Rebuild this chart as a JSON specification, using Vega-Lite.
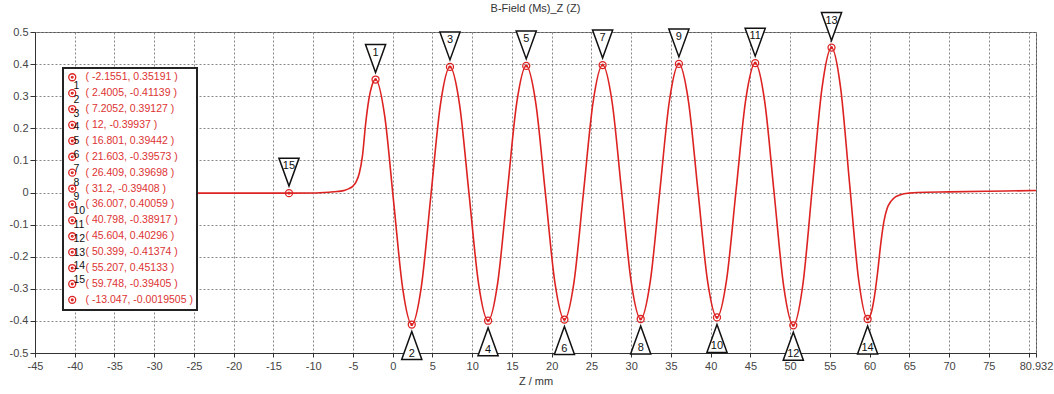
{
  "$schema": "https://vega.github.io/schema/vega-lite/v6.json",
  "width": 1001,
  "height": 321,
  "autosize": "none",
  "padding": {"left": 35, "top": 32, "right": 18, "bottom": 41},
  "title": {"text": "B-Field (Ms)_Z (Z)", "frame": "group", "fontSize": 11, "fontWeight": "normal", "font": "Liberation Sans", "color": "#333", "offset": -4},
  "config": {
    "view": {"stroke": "#555", "strokeWidth": 1},
    "font": "Liberation Sans",
    "legend": {"strokeWidth": 2}
  },
  "datasets": {
    "curve": [
      {"x": -40, "v": -0.002}, {"x": -30, "v": -0.002}, {"x": -20, "v": -0.002}, {"x": -13.047, "v": -0.00195},
      {"x": -10, "v": -0.0015}, {"x": -8, "v": 0.001}, {"x": -7, "v": 0.003}, {"x": -6, "v": 0.007},
      {"x": -5.5, "v": 0.012}, {"x": -5, "v": 0.02}, {"x": -4.6, "v": 0.033}, {"x": -4.2, "v": 0.06},
      {"x": -3.8, "v": 0.115}, {"x": -3.4, "v": 0.215}, {"x": -3.0, "v": 0.29}, {"x": -2.6, "v": 0.334},
      {"x": -2.1551, "v": 0.35191}, {"x": -1.0162, "v": 0.24016}, {"x": 0.1227, "v": -0.02974}, {"x": 1.2616, "v": -0.29964},
      {"x": 2.4005, "v": -0.41139}, {"x": 3.6017, "v": -0.29388}, {"x": 4.8029, "v": -0.01006}, {"x": 6.004, "v": 0.27376},
      {"x": 7.2052, "v": 0.39127}, {"x": 8.4039, "v": 0.27552}, {"x": 9.6026, "v": -0.00405}, {"x": 10.8013, "v": -0.28362},
      {"x": 12, "v": -0.39937}, {"x": 13.2003, "v": -0.28316}, {"x": 14.4005, "v": -0.00248}, {"x": 15.6008, "v": 0.27821},
      {"x": 16.801, "v": 0.39442}, {"x": 18.0015, "v": 0.27874}, {"x": 19.202, "v": -0.00065}, {"x": 20.4025, "v": -0.28005},
      {"x": 21.603, "v": -0.39573}, {"x": 22.8045, "v": -0.27968}, {"x": 24.006, "v": 0.00062}, {"x": 25.2075, "v": 0.28093},
      {"x": 26.409, "v": 0.39698}, {"x": 27.6068, "v": 0.28117}, {"x": 28.8045, "v": 0.00145}, {"x": 30.0023, "v": -0.27827},
      {"x": 31.2, "v": -0.39408}, {"x": 32.4018, "v": -0.27774}, {"x": 33.6035, "v": 0.00325}, {"x": 34.8053, "v": 0.28425},
      {"x": 36.007, "v": 0.40059}, {"x": 37.2048, "v": 0.28497}, {"x": 38.4025, "v": 0.00571}, {"x": 39.6003, "v": -0.27355},
      {"x": 40.798, "v": -0.38917}, {"x": 41.9995, "v": -0.2732}, {"x": 43.201, "v": 0.00689}, {"x": 44.4025, "v": 0.28699},
      {"x": 45.604, "v": 0.40296}, {"x": 46.8028, "v": 0.2834}, {"x": 48.0015, "v": -0.00539}, {"x": 49.2003, "v": -0.29418},
      {"x": 50.399, "v": -0.41374}, {"x": 51.601, "v": -0.28709}, {"x": 52.803, "v": 0.01879}, {"x": 54.005, "v": 0.32468},
      {"x": 55.207, "v": 0.45133}, {"x": 56.3423, "v": 0.32757}, {"x": 57.4775, "v": 0.02864}, {"x": 58.6128, "v": -0.27029},
      {"x": 59.748, "v": -0.39405}, {"x": 60.2, "v": -0.375}, {"x": 60.6, "v": -0.325}, {"x": 61.0, "v": -0.25},
      {"x": 61.4, "v": -0.16}, {"x": 61.8, "v": -0.09}, {"x": 62.2, "v": -0.05}, {"x": 62.7, "v": -0.027},
      {"x": 63.3, "v": -0.013}, {"x": 64, "v": -0.006}, {"x": 65, "v": -0.002}, {"x": 66, "v": 0.0},
      {"x": 70, "v": 0.002}, {"x": 75, "v": 0.004}, {"x": 80.932, "v": 0.006}
    ],
    "marks": [
      {"id": 1, "num": "1", "x": -2.1551, "v": 0.35191, "label": "( -2.1551, 0.35191 )"},
      {"id": 2, "num": "2", "x": 2.4005, "v": -0.41139, "label": "( 2.4005, -0.41139 )"},
      {"id": 3, "num": "3", "x": 7.2052, "v": 0.39127, "label": "( 7.2052, 0.39127 )"},
      {"id": 4, "num": "4", "x": 12, "v": -0.39937, "label": "( 12, -0.39937 )"},
      {"id": 5, "num": "5", "x": 16.801, "v": 0.39442, "label": "( 16.801, 0.39442 )"},
      {"id": 6, "num": "6", "x": 21.603, "v": -0.39573, "label": "( 21.603, -0.39573 )"},
      {"id": 7, "num": "7", "x": 26.409, "v": 0.39698, "label": "( 26.409, 0.39698 )"},
      {"id": 8, "num": "8", "x": 31.2, "v": -0.39408, "label": "( 31.2, -0.39408 )"},
      {"id": 9, "num": "9", "x": 36.007, "v": 0.40059, "label": "( 36.007, 0.40059 )"},
      {"id": 10, "num": "10", "x": 40.798, "v": -0.38917, "label": "( 40.798, -0.38917 )"},
      {"id": 11, "num": "11", "x": 45.604, "v": 0.40296, "label": "( 45.604, 0.40296 )"},
      {"id": 12, "num": "12", "x": 50.399, "v": -0.41374, "label": "( 50.399, -0.41374 )"},
      {"id": 13, "num": "13", "x": 55.207, "v": 0.45133, "label": "( 55.207, 0.45133 )"},
      {"id": 14, "num": "14", "x": 59.748, "v": -0.39405, "label": "( 59.748, -0.39405 )"},
      {"id": 15, "num": "15", "x": -13.047, "v": -0.0019505, "label": "( -13.047, -0.0019505 )"}
    ]
  },
  "encoding": {
    "x": {
      "field": "x", "type": "quantitative",
      "scale": {"domain": [-45, 80.932], "nice": false, "zero": false},
      "axis": {
        "title": "Z / mm",
        "values": [-45, -40, -35, -30, -25, -20, -15, -10, -5, 0, 5, 10, 15, 20, 25, 30, 35, 40, 45, 50, 55, 60, 65, 70, 75, 80, 80.932],
        "labelExpr": "datum.value == 80 ? '' : '' + datum.value",
        "grid": true, "gridDash": [2, 2], "gridColor": "#888", "gridWidth": 1,
        "domainColor": "#333", "tickColor": "#333", "tickSize": 4,
        "labelFont": "Liberation Sans", "labelFontSize": 11, "labelColor": "#444", "labelPadding": 3,
        "labelFlush": false, "labelOverlap": false,
        "titleFont": "Liberation Sans", "titleFontSize": 11, "titleFontWeight": "normal", "titleColor": "#333", "titlePadding": 4
      }
    },
    "y": {
      "field": "v", "type": "quantitative",
      "scale": {"domain": [-0.5, 0.5], "nice": false, "zero": false},
      "axis": {
        "title": null,
        "values": [-0.5, -0.4, -0.3, -0.2, -0.1, 0, 0.1, 0.2, 0.3, 0.4, 0.5],
        "labelExpr": "'' + datum.value",
        "grid": true, "gridDash": [2, 2], "gridColor": "#888", "gridWidth": 1,
        "domainColor": "#333", "tickColor": "#333", "tickSize": 5,
        "labelFont": "Liberation Sans", "labelFontSize": 11, "labelColor": "#444", "labelPadding": 2
      }
    }
  },
  "layer": [
    {
      "data": {"name": "curve"},
      "mark": {"type": "line", "interpolate": "monotone", "color": "#dd2222", "strokeWidth": 1.6}
    },
    {
      "data": {"name": "marks"},
      "mark": {"type": "point", "shape": "M-1,0A1,1 0 1,0 1,0A1,1 0 1,0 -1,0ZM-0.25,0A0.25,0.25 0 1,0 0.25,0A0.25,0.25 0 1,0 -0.25,0Z", "size": 49, "filled": false, "strokeWidth": 1.3, "opacity": 1},
      "encoding": {
        "color": {
          "field": "label", "type": "nominal",
          "scale": {
            "domain": ["( -2.1551, 0.35191 )", "( 2.4005, -0.41139 )", "( 7.2052, 0.39127 )", "( 12, -0.39937 )", "( 16.801, 0.39442 )", "( 21.603, -0.39573 )", "( 26.409, 0.39698 )", "( 31.2, -0.39408 )", "( 36.007, 0.40059 )", "( 40.798, -0.38917 )", "( 45.604, 0.40296 )", "( 50.399, -0.41374 )", "( 55.207, 0.45133 )", "( 59.748, -0.39405 )", "( -13.047, -0.0019505 )"],
            "range": ["#dd2222", "#dd2222", "#dd2222", "#dd2222", "#dd2222", "#dd2222", "#dd2222", "#dd2222", "#dd2222", "#dd2222", "#dd2222", "#dd2222", "#dd2222", "#dd2222", "#dd2222"]
          },
          "legend": {
            "orient": "none", "legendX": 28, "legendY": 36, "title": null, "direction": "vertical",
            "padding": 4, "rowPadding": 2.9, "fillColor": "white", "strokeColor": "#222",
            "symbolType": "M-1,0A1,1 0 1,0 1,0A1,1 0 1,0 -1,0ZM-0.25,0A0.25,0.25 0 1,0 0.25,0A0.25,0.25 0 1,0 -0.25,0Z",
            "symbolSize": 49, "symbolStrokeWidth": 1.3, "symbolStrokeColor": "#dd2222", "symbolFillColor": "transparent",
            "labelFont": "Liberation Sans", "labelFontSize": 10.5, "labelColor": "#dd3333", "labelOffset": 8, "labelLimit": 300
          }
        }
      }
    },
    {
      "data": {"name": "marks"},
      "transform": [{"filter": "datum.id % 2 == 1"}],
      "mark": {"type": "point", "shape": "M-0.72,-1L0.72,-1L0,1Z", "size": 784, "filled": true, "fill": "white", "stroke": "#111", "strokeWidth": 1.5, "opacity": 1, "yOffset": -21}
    },
    {
      "data": {"name": "marks"},
      "transform": [{"filter": "datum.id % 2 == 0"}],
      "mark": {"type": "point", "shape": "M0,-1L-0.72,1L0.72,1Z", "size": 784, "filled": true, "fill": "white", "stroke": "#111", "strokeWidth": 1.5, "opacity": 1, "yOffset": 21}
    },
    {
      "data": {"name": "marks"},
      "transform": [{"filter": "datum.id % 2 == 1"}],
      "mark": {"type": "text", "font": "Liberation Sans", "fontSize": 11, "color": "#111", "baseline": "middle", "align": "center", "yOffset": -27},
      "encoding": {"text": {"field": "num"}}
    },
    {
      "data": {"name": "marks"},
      "transform": [{"filter": "datum.id % 2 == 0"}],
      "mark": {"type": "text", "font": "Liberation Sans", "fontSize": 11, "color": "#111", "baseline": "middle", "align": "center", "yOffset": 29},
      "encoding": {"text": {"field": "num"}}
    },
    {
      "data": {"name": "marks"},
      "mark": {"type": "point", "opacity": 0, "size": 1},
      "encoding": {
        "shape": {
          "field": "num", "type": "nominal",
          "scale": {
            "domain": ["1", "2", "3", "4", "5", "6", "7", "8", "9", "10", "11", "12", "13", "14", "15"],
            "range": ["circle", "circle", "circle", "circle", "circle", "circle", "circle", "circle", "circle", "circle", "circle", "circle", "circle", "circle", "circle"]
          },
          "legend": {
            "orient": "none", "legendX": 28, "legendY": 48.5, "title": null, "direction": "vertical",
            "padding": 0, "rowPadding": 2.9, "symbolSize": 49, "symbolOpacity": 0, "symbolStrokeWidth": 1.3,
            "labelFont": "Liberation Sans", "labelFontSize": 10.5, "labelColor": "#111", "labelOffset": 0
          }
        }
      }
    }
  ]
}
